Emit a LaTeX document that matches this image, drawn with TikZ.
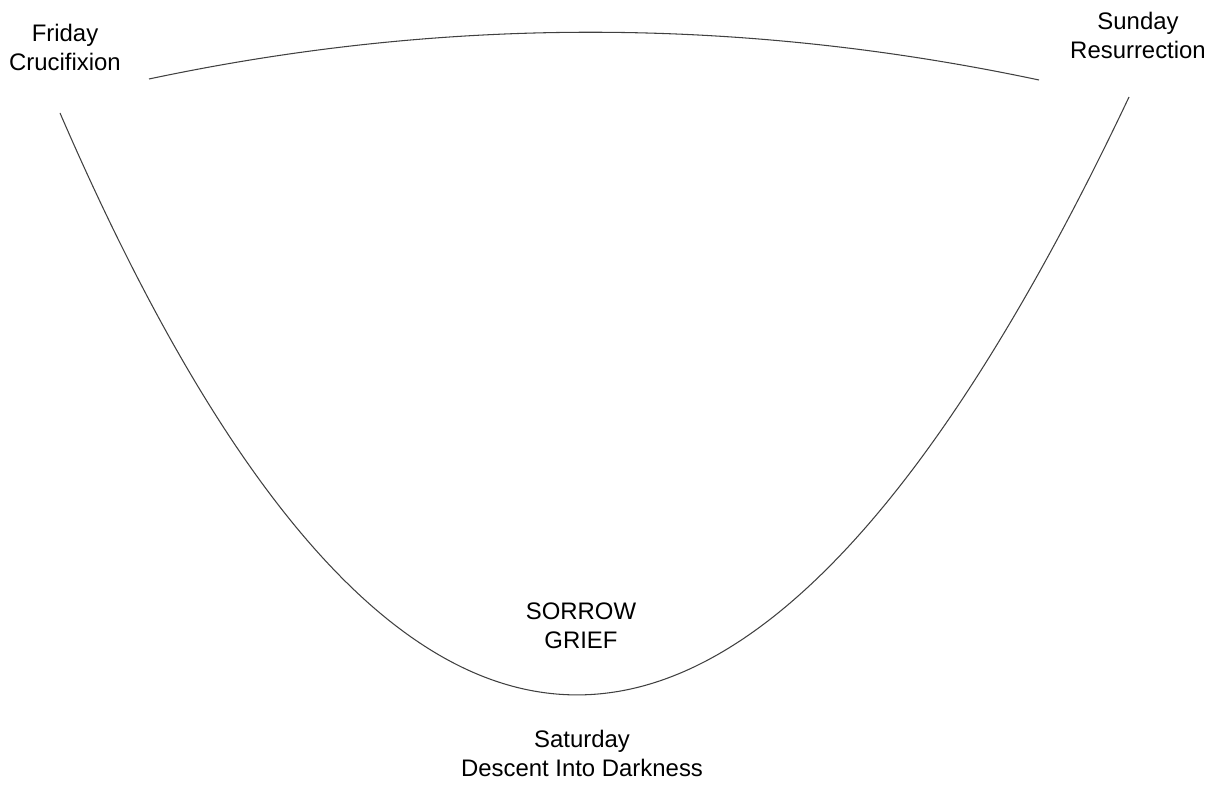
\documentclass[tikz,border=0pt]{standalone}
\usepackage{fontspec}
\setmainfont{Liberation Sans}
\usepackage{tikz}
\usetikzlibrary{positioning,calc}

\begin{document}
\begin{tikzpicture}[
      x=0.01cm, y=-0.01cm,
      font=\fontsize{6.8}{8.25}\selectfont,
      lbl/.style={align=center, inner sep=0pt, text=black},
      arc/.style={line width=0.3pt, draw=black!75},
    ]
    \useasboundingbox (0,0) rectangle (1225,785);

    % days and moods
    \node[lbl] (fri)    at (65,47)   {Friday\\Crucifixion};
    \node[lbl] (sun)    at (1138,35) {Sunday\\Resurrection};
    \node[lbl] (sorrow) at (581,626) {SORROW\\GRIEF};
    \node[lbl] (sat)    at (582,753) {Saturday\\Descent Into Darkness};

    % ends of the two curves
    \coordinate (dropL) at (60,113);
    \coordinate (dropR) at (1129,97);
    \coordinate (skyL)  at (149,79);
    \coordinate (skyR)  at (1039,80);

    \draw[arc] (dropL) .. controls (398,894) and (754,889) .. (dropR);
    \draw[arc] (skyL) .. controls (446,16) and (742,17) .. (skyR);
  \end{tikzpicture}
\end{document}
